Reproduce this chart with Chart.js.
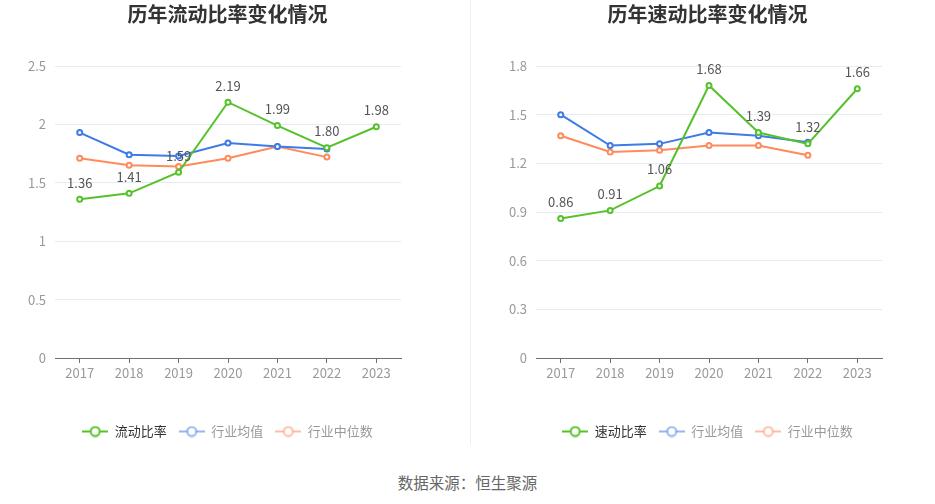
<!DOCTYPE html>
<html>
<head>
<meta charset="utf-8">
<script src="https://cdn.jsdelivr.net/npm/chart.js@4/dist/chart.umd.min.js"></script>
<style>
  html, body { margin: 0; padding: 0; background: #fff; }
  body { width: 935px; height: 504px; position: relative; overflow: hidden; }
  .box { position: absolute; top: 0; width: 455px; height: 448px; }
  #divider { position: absolute; left: 470px; top: 0; width: 1px; height: 445px; background: #eeeeee; }
  #source { position: absolute; left: 0; width: 935px; top: 471px; text-align: center;
            font: 15.5px 'Noto Sans CJK SC', sans-serif; color: #666; }
</style>
</head>
<body>
<div class="box" style="left:0"><canvas id="left" width="455" height="448"></canvas></div>
<div id="divider"></div>
<div class="box" style="left:480px"><canvas id="right" width="455" height="448"></canvas></div>
<div id="source">数据来源：恒生聚源</div>
<script>
// values
const years = ['2017', '2018', '2019', '2020', '2021', '2022', '2023'];
const currentRatio  = [1.36, 1.41, 1.59, 2.19, 1.99, 1.80, 1.98];
const currentAvg    = [1.93, 1.74, 1.73, 1.84, 1.81, 1.79, null];
const currentMedian = [1.71, 1.65, 1.64, 1.71, 1.81, 1.72, null];
const quickRatio  = [0.86, 0.91, 1.06, 1.68, 1.39, 1.32, 1.66];
const quickAvg    = [1.50, 1.31, 1.32, 1.39, 1.37, 1.33, null];
const quickMedian = [1.37, 1.27, 1.28, 1.31, 1.31, 1.25, null];
const currentTicks = [0, 0.5, 1, 1.5, 2, 2.5];
const quickTicks   = [0, 0.3, 0.6, 0.9, 1.2, 1.5, 1.8];

const GREEN = '#55c22b', BLUE = '#3d7be6', ORANGE = '#ff8a5c';

Chart.defaults.font.family = "'Noto Sans CJK SC', 'Noto Sans', sans-serif";

// little line-with-ring icon for the legend
function legendIcon(color) {
  const c = document.createElement('canvas');
  c.width = 26; c.height = 12;
  const g = c.getContext('2d');
  g.strokeStyle = color; g.lineWidth = 2;
  g.beginPath(); g.moveTo(0, 6); g.lineTo(26, 6); g.stroke();
  g.beginPath(); g.arc(13, 6, 4.5, 0, Math.PI * 2);
  g.fillStyle = '#fff'; g.fill(); g.stroke();
  return c;
}

// value labels above the first series only
const valueLabels = {
  id: 'valueLabels',
  afterDatasetsDraw(chart) {
    const ctx = chart.ctx;
    const meta = chart.getDatasetMeta(0);
    const data = chart.data.datasets[0].data;
    ctx.save();
    ctx.font = "13px 'Noto Sans CJK SC', sans-serif";
    ctx.fillStyle = '#555';
    ctx.textAlign = 'center';
    ctx.textBaseline = 'bottom';
    meta.data.forEach((pt, i) => {
      if (data[i] == null) return;
      ctx.fillText(data[i].toFixed(2), pt.x, pt.y - 10);
    });
    ctx.restore();
  }
};

function series(label, data, color) {
  return {
    label, data,
    borderColor: color, backgroundColor: '#fff',
    borderWidth: 2, pointRadius: 2.5, pointBorderWidth: 2,
    pointBackgroundColor: '#fff', pointBorderColor: color,
    tension: 0, spanGaps: false
  };
}

function makeChart(id, title, names, sets, ticks, leftW, rightW) {
  const icons = [legendIcon(GREEN), legendIcon('rgba(61,123,230,0.55)'), legendIcon('rgba(255,138,92,0.55)')];
  new Chart(document.getElementById(id), {
    type: 'line',
    data: {
      labels: years,
      datasets: [
        series(names[0], sets[0], GREEN),
        series(names[1], sets[1], BLUE),
        series(names[2], sets[2], ORANGE)
      ]
    },
    options: {
      responsive: false,
      animation: false,
      events: [],
      layout: { padding: 0 },
      plugins: {
        title: {
          display: true, text: title, color: '#333',
          font: { size: 20, weight: 'bold' },
          padding: { top: 2, bottom: 40 }
        },
        legend: {
          position: 'bottom',
          labels: {
            usePointStyle: true, pointStyleWidth: 26, padding: 12,
            font: { size: 13 },
            generateLabels(chart) {
              return chart.data.datasets.map((d, i) => ({
                text: d.label, pointStyle: icons[i], datasetIndex: i,
                fontColor: i === 0 ? '#333' : '#999',
                lineWidth: 0, strokeStyle: 'transparent', fillStyle: 'transparent', hidden: false
              }));
            }
          }
        },
        tooltip: { enabled: false }
      },
      scales: {
        x: {
          offset: true,
          grid: { offset: false, drawOnChartArea: false, drawTicks: true, tickLength: 5, color: '#6e7079' },
          border: { display: true, color: '#6e7079', width: 1 },
          ticks: { color: '#999', font: { size: 13 }, padding: 2 },
          afterFit: s => { s.height = 55; }
        },
        y: {
          min: ticks[0], max: ticks[ticks.length - 1],
          grid: { color: '#e6eaf3', drawTicks: false },
          border: { display: false },
          ticks: { color: '#999', font: { size: 13 }, padding: 9, callback: v => String(+v.toFixed(2)) },
          afterBuildTicks: s => { s.ticks = ticks.map(v => ({ value: v })); },
          afterFit: s => { s.width = leftW; }
        },
        pad: {
          position: 'right', display: true,
          grid: { display: false }, border: { display: false }, ticks: { display: false },
          afterFit: s => { s.width = rightW; }
        }
      }
    },
    plugins: [valueLabels]
  });
}

makeChart('left', '历年流动比率变化情况', ['流动比率', '行业均值', '行业中位数'],
  [currentRatio, currentAvg, currentMedian], currentTicks, 55, 54);
makeChart('right', '历年速动比率变化情况', ['速动比率', '行业均值', '行业中位数'],
  [quickRatio, quickAvg, quickMedian], quickTicks, 56, 53);
</script>
</body>
</html>
